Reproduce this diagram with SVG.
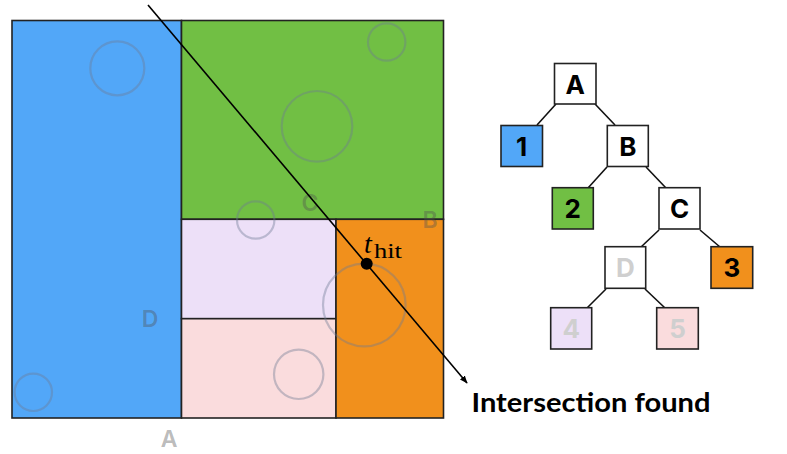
<svg xmlns="http://www.w3.org/2000/svg" width="787" height="454" viewBox="0 0 787 454">
<style>
.cell{stroke:#222;stroke-width:1.6}
.bubble{fill:none;stroke:#6e7a94;stroke-opacity:0.4;stroke-width:2.2}
.lbl{font-family:Inter,"Noto Sans",sans-serif;font-weight:600;font-size:23px;fill:#505050;fill-opacity:0.4;text-anchor:middle}
.box{stroke:#222;stroke-width:1.6}
.tl{font-family:Inter,"Noto Sans",sans-serif;font-weight:700;font-size:26px;text-anchor:middle;fill:#000}
.dim{fill:#cfcfcf}
.edge{stroke:#111;stroke-width:1.6;fill:none}
</style>
<defs>
<marker id="arr" viewBox="0 0 10 10" refX="9" refY="5" markerWidth="8" markerHeight="8" orient="auto" markerUnits="userSpaceOnUse">
<path d="M0,1 L10,5 L0,9 z" fill="#000"/>
</marker>
</defs>
<rect width="787" height="454" fill="#fff"/>
<g id="space">
<rect class="cell" x="12" y="20.5" width="169.5" height="397.5" fill="#52a7f8"/>
<rect class="cell" x="181.5" y="20.5" width="262" height="198.8" fill="#71bf44"/>
<rect class="cell" x="181.5" y="219.3" width="154.5" height="99.4" fill="#ede0f8"/>
<rect class="cell" x="181.5" y="318.7" width="154.5" height="99.3" fill="#fadcdd"/>
<rect class="cell" x="336" y="219.3" width="107.5" height="198.7" fill="#f1901c"/>
</g>
<g id="primitives">
<circle class="bubble" cx="117.3" cy="68.3" r="27"/>
<circle class="bubble" cx="386.7" cy="42" r="18.7"/>
<circle class="bubble" cx="317" cy="126.3" r="35.3"/>
<circle class="bubble" cx="255.7" cy="220" r="18.7"/>
<circle class="bubble" cx="364.3" cy="305" r="41.3"/>
<circle class="bubble" cx="298.7" cy="374.3" r="24.7"/>
<circle class="bubble" cx="33.3" cy="392.3" r="18.7"/>
</g>
<g id="space-labels">
<text class="lbl" x="169" y="447">A</text>
<text class="lbl" x="430" y="228">B</text>
<text class="lbl" x="310" y="211">C</text>
<text class="lbl" x="150" y="327">D</text>
</g>
<g id="ray">
<line x1="148" y1="5" x2="467" y2="383" stroke="#000" stroke-width="1.6" marker-end="url(#arr)"/>
<circle cx="366.7" cy="263.7" r="6" fill="#000"/>
<text x="364" y="253" font-family="'Liberation Serif','DejaVu Serif',serif" font-style="italic" font-size="28" fill="#000">t</text>
<text x="374" y="257.5" font-family="'Liberation Serif','DejaVu Serif',serif" font-size="20" textLength="28" lengthAdjust="spacingAndGlyphs" fill="#000">hit</text>
</g>
<g id="connectors">
<line class="edge" x1="556" y1="104" x2="537" y2="125"/>
<line class="edge" x1="595" y1="104" x2="615" y2="125"/>
<line class="edge" x1="607" y1="167" x2="588" y2="188"/>
<line class="edge" x1="646" y1="167" x2="666" y2="188"/>
<line class="edge" x1="659" y1="230" x2="641" y2="247"/>
<line class="edge" x1="700" y1="230" x2="720" y2="247"/>
<line class="edge" x1="606" y1="289" x2="587" y2="308"/>
<line class="edge" x1="645" y1="289" x2="665" y2="308"/>
</g>
<g id="node-A"><rect class="box" x="554.5" y="63.5" width="41.5" height="40.5" fill="#fff"/><text class="tl" x="575.2" y="93.5">A</text></g>
<g id="node-1"><rect class="box" x="501" y="125.5" width="41.5" height="41" fill="#52a7f8"/><text class="tl" x="521.7" y="155.5">1</text></g>
<g id="node-B"><rect class="box" x="607.3" y="125.5" width="41" height="41" fill="#fff"/><text class="tl" x="627.8" y="155.5">B</text></g>
<g id="node-2"><rect class="box" x="552.3" y="187.7" width="41" height="41.3" fill="#71bf44"/><text class="tl" x="572.8" y="217.8">2</text></g>
<g id="node-C"><rect class="box" x="659" y="187.7" width="41" height="41.3" fill="#fff"/><text class="tl" x="679.5" y="217.8">C</text></g>
<g id="node-D"><rect class="box" x="605" y="246.7" width="40.7" height="41.6" fill="#fff"/><text class="tl dim" x="625.3" y="277">D</text></g>
<g id="node-3"><rect class="box" x="711" y="246.7" width="41.7" height="41.6" fill="#f1901c"/><text class="tl" x="731.8" y="277">3</text></g>
<g id="node-4"><rect class="box" x="550.7" y="307.7" width="41" height="41.3" fill="#ede0f8"/><text class="tl dim" x="571.2" y="338">4</text></g>
<g id="node-5"><rect class="box" x="656.7" y="307.7" width="41.6" height="41.3" fill="#fadcdd"/><text class="tl dim" x="677.5" y="338">5</text></g>
<g id="caption">
<text x="471.5" y="412" font-family="Lato,'Noto Sans',sans-serif" font-weight="700" font-size="27" textLength="239" lengthAdjust="spacingAndGlyphs" fill="#000">Intersection found</text>
</g>
</svg>
